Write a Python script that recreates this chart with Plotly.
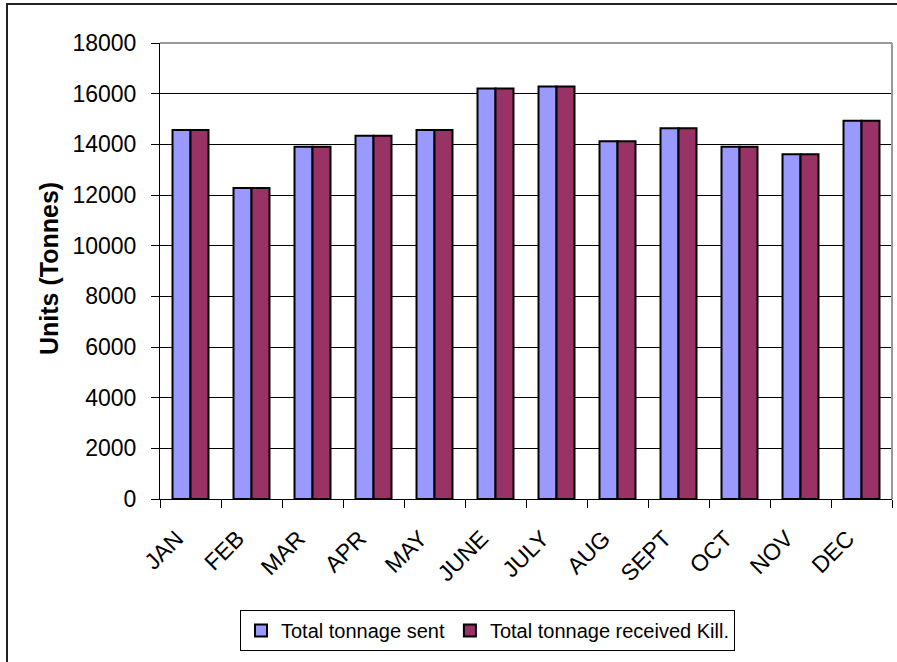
import plotly.graph_objects as go

months = ["JAN", "FEB", "MAR", "APR", "MAY", "JUNE", "JULY", "AUG", "SEPT", "OCT", "NOV", "DEC"]
sent = [14570, 12280, 13900, 14340, 14570, 16200, 16280, 14120, 14630, 13900, 13610, 14930]
received = [14570, 12280, 13900, 14340, 14570, 16200, 16280, 14120, 14630, 13900, 13610, 14930]
y_ticks = [0, 2000, 4000, 6000, 8000, 10000, 12000, 14000, 16000, 18000]

FONT = "Liberation Sans, Arial, sans-serif"
W, H = 897, 662
L, R, T, B = 160, 5, 43, 163
pw, ph = W - L - R, H - T - B

def px(x):
    return (x - L) / pw

def py(y):
    return (H - B - y) / ph

fig = go.Figure()
fig.add_trace(go.Bar(x=months, y=sent, name="Total tonnage sent",
                     marker=dict(color="#9999FF", line=dict(color="black", width=2))))
fig.add_trace(go.Bar(x=months, y=received, name="Total tonnage received Kill.",
                     marker=dict(color="#993366", line=dict(color="black", width=2))))

fig.update_layout(
    width=W, height=H,
    margin=dict(l=L, r=R, t=T, b=B),
    paper_bgcolor="white", plot_bgcolor="white",
    barmode="group", bargap=0.41, bargroupgap=0,
    font=dict(family=FONT, size=23, color="black"),
    showlegend=True,
    legend=dict(orientation="h", x=px(240), y=py(610), xanchor="left", yanchor="top",
                bordercolor="black", borderwidth=1, font=dict(size=20),
                itemwidth=30, tracegroupgap=0),
    xaxis=dict(type="category", tickangle=-45, showline=True, linecolor="black", linewidth=1,
               ticks="outside", tickson="boundaries", ticklen=8, tickcolor="black",
               showgrid=False, tickfont=dict(size=23), ticklabelstandoff=16, ticklabelshift=-14),
    yaxis=dict(range=[0, 18000], tickvals=y_ticks, ticktext=[str(v) for v in y_ticks],
               showline=True, linecolor="black", linewidth=1,
               ticks="outside", ticklen=8, tickcolor="black",
               showgrid=True, gridcolor="black", gridwidth=1, zeroline=False,
               tickfont=dict(size=23), ticklabelstandoff=10),
)

# plot-area border (top & right, grey)
fig.add_shape(type="line", xref="paper", yref="paper", x0=0, x1=1, y0=1, y1=1,
              line=dict(color="#999999", width=2))
fig.add_shape(type="line", xref="paper", yref="paper", x0=1, x1=1, y0=0, y1=1,
              line=dict(color="#999999", width=2))
# outer chart border
fig.add_shape(type="rect", xref="paper", yref="paper",
              x0=px(7), x1=px(910), y0=py(680), y1=py(4),
              line=dict(color="#222222", width=2), layer="above")

fig.add_annotation(text="<b>Units (Tonnes)</b>", textangle=-90, xref="paper", yref="paper",
                   x=px(49), y=py(269), xanchor="center", yanchor="middle", showarrow=False,
                   font=dict(size=25, family=FONT, color="black"))

fig.write_html("out.html")
